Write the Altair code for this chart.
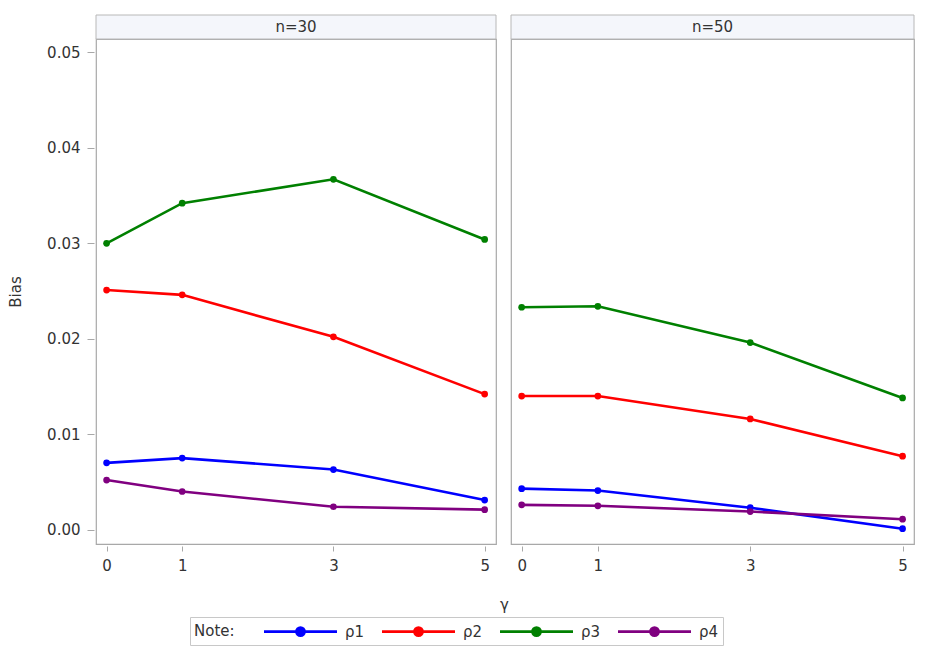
import altair as alt
import pandas as pd

gammas = [0, 1, 3, 5]
panels = ["n=30", "n=50"]
series = ["ρ1", "ρ2", "ρ3", "ρ4"]
colors = ["#0000ff", "#ff0000", "#008000", "#800080"]

bias_n30 = {
    "ρ1": [0.0070, 0.0075, 0.0063, 0.0031],
    "ρ2": [0.0251, 0.0246, 0.0202, 0.0142],
    "ρ3": [0.0300, 0.0342, 0.0367, 0.0304],
    "ρ4": [0.0052, 0.0040, 0.0024, 0.0021],
}
bias_n50 = {
    "ρ1": [0.0043, 0.0041, 0.0023, 0.0001],
    "ρ2": [0.0140, 0.0140, 0.0116, 0.0077],
    "ρ3": [0.0233, 0.0234, 0.0196, 0.0138],
    "ρ4": [0.0026, 0.0025, 0.0019, 0.0011],
}
y_ticks = [0.0, 0.01, 0.02, 0.03, 0.04, 0.05]

rows = []
for panel, table in zip(panels, [bias_n30, bias_n50]):
    for s in series:
        for g, v in zip(gammas, table[s]):
            rows.append({"n": panel, "gamma": g, "series": s, "bias": v})
df = pd.DataFrame(rows)

W1, W2, H = 400, 403, 505
FONT = "DejaVu Sans"
TXT = "#333333"
FS = 15

x_scale = alt.Scale(domain=[-0.14, 5.15], nice=False, zero=False)
y_scale = alt.Scale(domain=[-0.0015, 0.0514], nice=False, zero=False)

legend = alt.Legend(title="Note:", orient="none", legendX=94, legendY=578, direction="horizontal",
                    titleOrient="left", titleFontWeight="normal", titleFont=FONT,
                    titleFontSize=FS, titleColor=TXT, titlePadding=55, titleBaseline="middle",
                    labelFont=FONT, labelFontSize=FS, labelColor=TXT, labelOffset=34,
                    symbolType="M-4,0H4M-0.45,0a0.45,0.45 0 1,0 0.9,0a0.45,0.45 0 1,0 -0.9,0",
                    symbolSize=333, symbolStrokeWidth=2.6, columnPadding=11,
                    strokeColor="#c8c8c8", padding=4)


def panel(name, width, show_y, x_title):
    sub = df[df["n"] == name]
    if x_title:
        x_axis = alt.Axis(values=gammas, format="d", grid=False, domain=False, offset=2,
                          tickColor="#a8a8a8", tickSize=5, labelFontSize=FS, labelColor=TXT,
                          labelFont=FONT, labelPadding=7, title=x_title, titleX=width + 8,
                          titleY=58, titleBaseline="middle", titleFont=FONT, titleFontSize=FS,
                          titleFontWeight="normal", titleColor=TXT)
    else:
        x_axis = alt.Axis(values=gammas, format="d", grid=False, domain=False, offset=2,
                          tickColor="#a8a8a8", tickSize=5, labelFontSize=FS, labelColor=TXT,
                          labelFont=FONT, labelPadding=7)
    if show_y:
        y_enc = alt.Y("bias:Q", title="Bias", scale=y_scale,
                      axis=alt.Axis(values=y_ticks, format=".2f", grid=False, domain=False, offset=2,
                                    tickColor="#a8a8a8", tickSize=7, labelFontSize=FS, labelColor=TXT,
                                    labelFont=FONT, labelPadding=7, titleFont=FONT, titleFontSize=FS,
                                    titleFontWeight="normal", titleColor=TXT, titlePadding=23))
    else:
        y_enc = alt.Y("bias:Q", scale=y_scale, axis=None)

    lines = alt.Chart(sub).mark_line(strokeWidth=2.6, point=alt.OverlayMarkDef(size=45, filled=True)).encode(
        x=alt.X("gamma:Q", title=None, scale=x_scale, axis=x_axis),
        y=y_enc,
        color=alt.Color("series:N", scale=alt.Scale(domain=series, range=colors), legend=legend),
        order="gamma:Q",
    )
    head = sub[(sub["gamma"] == 0) & (sub["series"] == "ρ1")]
    header_rect = alt.Chart(head).mark_rect(fill="#f4f6fb", stroke="#b8b8b8", strokeWidth=1).encode(
        x=alt.value(0), x2=alt.value(width), y=alt.value(-24), y2=alt.value(0)
    )
    header_text = alt.Chart(head).mark_text(font=FONT, fontSize=FS, color=TXT, baseline="middle").encode(
        x=alt.value(width / 2), y=alt.value(-12), text="n:N"
    )
    return alt.layer(header_rect, header_text, lines).properties(width=width, height=H)


chart = alt.hconcat(
    panel("n=30", W1, True, "γ"),
    panel("n=50", W2, False, None),
    spacing=15,
    bounds="flush",
).properties(
    padding={"left": 0, "top": 5, "right": 5, "bottom": 5}
).configure_view(
    stroke="#a8a8a8", strokeWidth=1.2
)

chart.save("out.html", embed_options={"renderer": "svg", "actions": False})
